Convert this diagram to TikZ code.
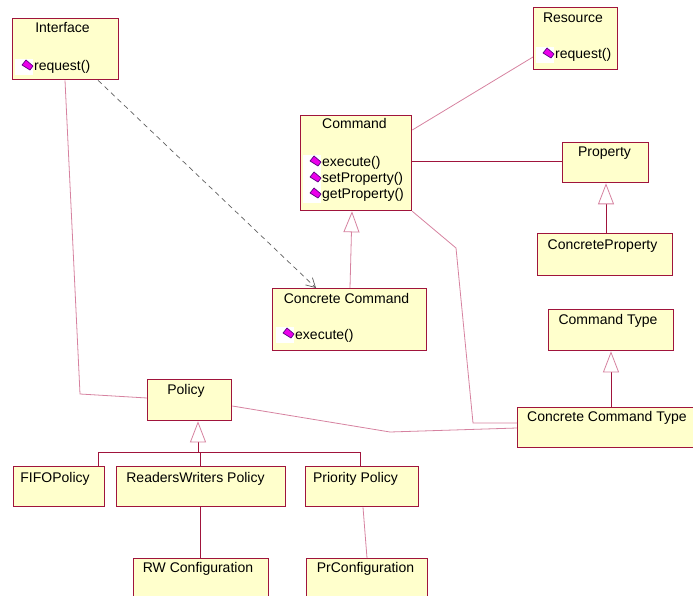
\documentclass[tikz,border=0pt]{standalone}
\usepackage{fontspec}
\setmainfont{Liberation Sans}
\usetikzlibrary{arrows.meta,calc}

\definecolor{clsfill}{RGB}{255,255,204}
\definecolor{clsedge}{RGB}{160,20,60}
\definecolor{linkpale}{RGB}{214,130,160}
\definecolor{depgray}{RGB}{95,95,95}
\definecolor{opmag}{RGB}{235,0,235}
\definecolor{opedge}{RGB}{90,0,130}

\begin{document}
\begin{tikzpicture}[x=1pt,y=-1pt,
  cls/.style={draw=clsedge, fill=clsfill, line width=1.3pt, inner sep=0pt, anchor=north west},
  ttl/.style={anchor=base, inner sep=0pt, font=\fontsize{14}{16}\selectfont},
  op/.style={anchor=base west, inner sep=0pt, font=\fontsize{14}{16}\selectfont},
  assoc/.style={draw=linkpale, line width=0.8pt},
  strong/.style={draw=clsedge, line width=1pt},
  dep/.style={draw=depgray, line width=0.7pt, dash pattern=on 5pt off 4pt,
    -{Straight Barb[length=9pt,width=10pt]}},
  genpale/.style={draw=linkpale, line width=0.8pt,
    -{Triangle[length=21pt,width=16pt,fill=white,color=linkpale,line width=0.8pt]}},
  gendark/.style={draw=clsedge, line width=1pt,
    -{Triangle[length=21pt,width=16pt,fill=white,color=linkpale,line width=0.8pt]}},
  opmark/.pic={
    \fill[white] (-19,-12) rectangle (-1,4);
    \draw[opedge, fill=opmag, line width=0.7pt, line join=round]
      (-12,-6) -- (-8,-11) -- (-1,-5) -- (-4,-1) -- cycle;
  }
]
\useasboundingbox (0,0) rectangle (693,596);

% ---------- classes ----------
\node[cls, minimum width=106pt, minimum height=61pt] (interface) at (12,18) {};
\node[cls, minimum width=84pt,  minimum height=62pt] (resource)  at (533,7) {};
\node[cls, minimum width=111pt, minimum height=95pt] (command)   at (300,115) {};
\node[cls, minimum width=86pt,  minimum height=40pt] (property)  at (562,142) {};
\node[cls, minimum width=135pt, minimum height=42pt] (cprop)     at (537,233) {};
\node[cls, minimum width=154pt, minimum height=62pt] (ccmd)      at (272,288) {};
\node[cls, minimum width=125pt, minimum height=41pt] (cmdtype)   at (548,309) {};
\node[cls, minimum width=185pt, minimum height=40pt] (cctype)    at (517,407) {};
\node[cls, minimum width=84pt,  minimum height=41pt] (policy)    at (147,379) {};
\node[cls, minimum width=91pt,  minimum height=40pt] (fifo)      at (13,466) {};
\node[cls, minimum width=169pt, minimum height=40pt] (rwpol)     at (116,466) {};
\node[cls, minimum width=113pt, minimum height=40pt] (prpol)     at (305,466) {};
\node[cls, minimum width=135pt, minimum height=50pt] (rwconf)    at (133,558) {};
\node[cls, minimum width=121pt, minimum height=50pt] (prconf)    at (306,558) {};

% ---------- class names ----------
\node[ttl] (interface-t) at (62.5,33)  {Interface};
\node[ttl] (resource-t)  at (573,23)   {Resource};
\node[ttl] (command-t)   at (354.5,129) {Command};
\node[ttl] (property-t)  at (604.5,157) {Property};
\node[ttl] (cprop-t)     at (602.5,249) {ConcreteProperty};
\node[ttl] (ccmd-t)      at (346.5,303) {Concrete Command};
\node[ttl] (cmdtype-t)   at (608,324)  {Command Type};
\node[ttl] (cctype-t)    at (607,421)  {Concrete Command Type};
\node[ttl] (policy-t)    at (186,394)  {Policy};
\node[ttl] (fifo-t)      at (55,482)   {FIFOPolicy};
\node[ttl] (rwpol-t)     at (195.5,482) {ReadersWriters Policy};
\node[ttl] (prpol-t)     at (355.5,482) {Priority Policy};
\node[ttl] (rwconf-t)    at (198,572)  {RW Configuration};
\node[ttl] (prconf-t)    at (365.5,572) {PrConfiguration};

% ---------- operations ----------
\node[op] (interface-req) at (34,71)  {request()};
\node[op] (resource-req)  at (555,59) {request()};
\node[op] (command-exe)   at (322,167) {execute()};
\node[op] (command-set)   at (322,183) {setProperty()};
\node[op] (command-get)   at (322,199) {getProperty()};
\node[op] (ccmd-exe)      at (295,339) {execute()};
\foreach \o in {interface-req,resource-req,command-exe,command-set,command-get,ccmd-exe}
  \pic at (\o.base west) {opmark};

% ---------- associations ----------
\coordinate (ifbend) at (80,394);
\draw[assoc] ($(interface.south west)+(53,0)$) -- (ifbend) -- ($(policy.north west)+(0,19)$);

\draw[assoc] ($(resource.north west)+(0,50)$) -- ($(command.north east)+(0,15)$);

\draw[strong] ($(command.north east)+(0,47)$) -- ($(property.north west)+(0,20)$);

\coordinate (cmdbendA) at (456,248);
\coordinate (cmdbendB) at (473,423);
\draw[assoc] (command.south east) -- (cmdbendA) -- (cmdbendB) -- ($(cctype.north west)+(0,16)$);

\coordinate (polbend) at (390,432);
\draw[assoc] ($(policy.north east)+(0,27)$) -- (polbend) -- ($(cctype.north west)+(0,21)$);

\draw[strong] ($(rwpol.south west)+(84,0)$) -- ($(rwconf.north west)+(67,0)$);
\draw[assoc]  ($(prpol.south west)+(58,0)$) -- ($(prconf.north west)+(61,0)$);

% ---------- dependency ----------
\draw[dep] ($(interface.south west)+(86,0)$) -- ($(ccmd.north west)+(44,0)$);

% ---------- generalizations ----------
\draw[genpale] ($(ccmd.north west)+(78,0)$) -- ($(command.south west)+(52,0)$);
\draw[gendark] ($(cprop.north west)+(69,0)$) -- ($(property.south west)+(44,0)$);
\draw[gendark] ($(cctype.north west)+(94,0)$) -- ($(cmdtype.south west)+(63,0)$);

\coordinate (poljoin) at (198,452);
\draw[strong] ($(fifo.north west)+(85,0)$) -- (98,452) -- (360,452) -- ($(prpol.north west)+(55,0)$);
\draw[strong] ($(rwpol.north west)+(84,0)$) -- (200,452);
\draw[gendark] (poljoin) -- ($(policy.south west)+(51,0)$);
\end{tikzpicture}
\end{document}
